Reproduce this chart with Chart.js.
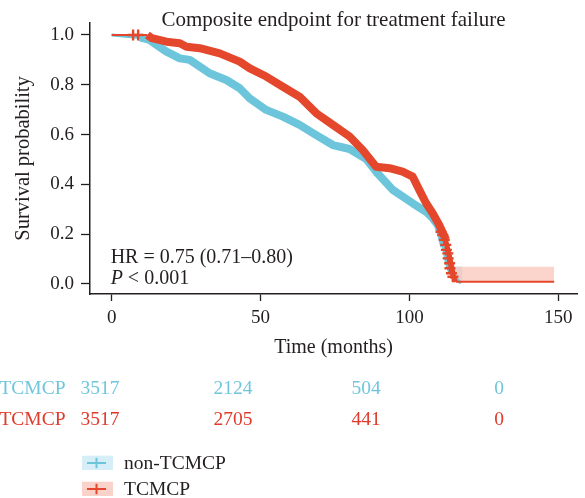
<!DOCTYPE html>
<html><head><meta charset="utf-8">
<script src="https://cdn.jsdelivr.net/npm/chart.js@4.4.1/dist/chart.umd.min.js"></script>
<style>html,body{margin:0;padding:0;background:#fff;overflow:hidden}canvas{display:block}</style>
</head><body>
<canvas id="c" width="585" height="498"></canvas>
<script>
// ---- data ----
const titleText = 'Composite endpoint for treatment failure';
const xTitle = 'Time (months)';
const yTitle = 'Survival probability';
const groups = ['non-TCMCP', 'TCMCP'];
const timeTicks = [0, 50, 100, 150];
const survTicks = [0, 0.2, 0.4, 0.6, 0.8, 1.0];
const riskNon = [3517, 2124, 504, 0];
const riskTC = [3517, 2705, 441, 0];
const hrLabel = 'HR = 0.75 (0.71\u20130.80)';
const pLabel = ['P', ' < 0.001'];

const timeNon = [0, 9.5, 12.8, 15.1, 18.4, 22.9, 26.2, 29.6, 32.9, 38.5, 43.0, 46.4, 51.9, 57.5, 63.1, 68.7, 74.3, 79.9, 85.5, 88.8, 94.4, 101.1, 105.6, 107.8, 109.5, 110.6, 111.7, 112.8, 113.9, 115.6, 117.3];
const survNon = [1.0, 0.99, 0.98, 0.96, 0.933, 0.906, 0.9, 0.873, 0.846, 0.819, 0.786, 0.745, 0.699, 0.672, 0.639, 0.598, 0.558, 0.542, 0.502, 0.451, 0.378, 0.324, 0.29, 0.264, 0.237, 0.204, 0.15, 0.083, 0.043, 0.023, 0.003];

const timeTC = [0, 12.0, 13.5, 18.4, 22.9, 25.1, 29.6, 36.3, 43.0, 46.4, 51.9, 57.5, 63.1, 68.7, 74.3, 79.9, 84.3, 88.8, 93.3, 97.7, 101.1, 103.3, 105.6, 107.8, 110.0, 112.3, 113.4, 114.4, 115.0, 115.6, 148.6];
const survTC = [1.0, 1.0, 0.987, 0.973, 0.967, 0.953, 0.947, 0.926, 0.893, 0.866, 0.833, 0.792, 0.752, 0.686, 0.639, 0.592, 0.538, 0.471, 0.465, 0.451, 0.431, 0.378, 0.324, 0.284, 0.237, 0.177, 0.124, 0.069, 0.029, 0.009, 0.009];

const censorTimeTC = [7.2, 8.9, 110.6, 111.2, 111.7, 112.2, 112.4, 112.9, 113.0, 113.5, 113.6, 114.1, 114.6];
const censorSurvTC = [1.0, 1.0, 0.21, 0.197, 0.177, 0.157, 0.137, 0.123, 0.103, 0.083, 0.063, 0.043, 0.029];

const ciTimeTC = [115.0, 148.6];
const ciUpperTC = [0.069, 0.069];
const ciLowerTC = [0.008, 0.008];
const ciTimeNon = [113.9, 117.8];
const ciUpperNon = [0.07, 0.07];
const ciLowerNon = [0.009, 0.009];

// ---- styling ----
const ink = '#231f20';
const cyan = '#6cc5db', red = '#e4472b';
const cyanText = '#6fc6dc', redText = '#df3a2a';
const cyanFill = 'rgba(120,200,225,0.30)', redFill = 'rgba(249,185,172,0.62)';
const cyanBox = '#d6eef7', redBox = '#fbd2ca';
const serif = '"Liberation Serif", "Times New Roman", serif';

const pts = (xs, ys) => xs.map((x, i) => ({x: x, y: ys[i]}));

Chart.defaults.font.family = serif;
Chart.defaults.color = ink;

const overlay = {
  id: 'overlay',
  afterDraw(chart) {
    const ctx = chart.ctx, ca = chart.chartArea, xs = chart.scales.x;
    ctx.save();
    ctx.fillStyle = ink;
    ctx.textBaseline = 'alphabetic';
    // title
    ctx.textAlign = 'center';
    ctx.font = '21px ' + serif;
    ctx.fillText(titleText, (ca.left + ca.right) / 2, 26);
    // HR annotation
    ctx.textAlign = 'left';
    const ax = xs.getPixelForValue(0) - 1;
    ctx.font = '20px ' + serif;
    ctx.fillText(hrLabel, ax, 262.5);
    ctx.font = 'italic 20px ' + serif;
    ctx.fillText(pLabel[0], ax, 283.5);
    const pw = ctx.measureText(pLabel[0]).width;
    ctx.font = '20px ' + serif;
    ctx.fillText(pLabel[1], ax + pw, 283.5);
    // risk table
    const rows = [[groups[0], riskNon, cyanText, 393.5], [groups[1], riskTC, redText, 424.5]];
    ctx.font = '19.5px ' + serif;
    rows.forEach(r => {
      ctx.fillStyle = r[2];
      ctx.textAlign = 'right';
      ctx.fillText(r[0], 65.5, r[3]);
      ctx.textAlign = 'center';
      r[1].forEach((v, i) => ctx.fillText(String(v), 100 + i * 133, r[3]));
    });
    // legend
    const leg = [[groups[0], cyanBox, cyan, 455.7], [groups[1], redBox, red, 481.7]];
    leg.forEach(l => {
      ctx.fillStyle = l[1];
      ctx.fillRect(82, l[3], 31, 14.3);
      ctx.strokeStyle = l[2];
      ctx.lineWidth = 2;
      ctx.beginPath();
      ctx.moveTo(87, l[3] + 7.2); ctx.lineTo(106, l[3] + 7.2);
      ctx.moveTo(96.5, l[3] + 2); ctx.lineTo(96.5, l[3] + 12.5);
      ctx.stroke();
      ctx.fillStyle = ink;
      ctx.textAlign = 'left';
      ctx.font = '19.5px ' + serif;
      ctx.fillText(l[0], 124, l[3] + 12.8);
    });
    ctx.restore();
  }
};

new Chart(document.getElementById('c'), {
  type: 'line',
  data: {
    datasets: [
      {
        type: 'scatter', label: 'censor TCMCP', data: pts(censorTimeTC, censorSurvTC), order: 0,
        showLine: false, pointStyle: 'cross', pointRadius: 5.5, pointBorderWidth: 2.4,
        borderColor: red, backgroundColor: red
      },
      {
        label: groups[1], data: pts(timeTC, survTC), order: 1,
        borderColor: red, pointRadius: 0, fill: false, tension: 0,
        borderJoinStyle: 'round', borderCapStyle: 'butt', borderWidth: 8,
        segment: { borderWidth: c => (c.p0.parsed.x < 12 || c.p0.parsed.x >= 115.6) ? 2 : (c.p0.parsed.x >= 112.3 ? 4 : 8) }
      },
      {
        label: groups[0], data: pts(timeNon, survNon), order: 2,
        borderColor: cyan, pointRadius: 0, fill: false, tension: 0,
        borderJoinStyle: 'round', borderCapStyle: 'butt', borderWidth: 8,
        segment: { borderWidth: c => (c.p0.parsed.x < 9.5 || c.p0.parsed.x >= 113.9) ? 3 : (c.p0.parsed.x >= 111.7 ? 5 : 8) }
      },
      {
        label: 'ci upper TCMCP', data: pts(ciTimeTC, ciUpperTC), order: 3,
        borderWidth: 0, pointRadius: 0, fill: '+1', backgroundColor: redFill, borderColor: 'rgba(0,0,0,0)'
      },
      {
        label: 'ci lower TCMCP', data: pts(ciTimeTC, ciLowerTC), order: 4,
        borderWidth: 0, pointRadius: 0, fill: false, borderColor: 'rgba(0,0,0,0)'
      },
      {
        label: 'ci upper non', data: pts(ciTimeNon, ciUpperNon), order: 5,
        borderWidth: 0, pointRadius: 0, fill: '+1', backgroundColor: cyanFill, borderColor: 'rgba(0,0,0,0)'
      },
      {
        label: 'ci lower non', data: pts(ciTimeNon, ciLowerNon), order: 6,
        borderWidth: 0, pointRadius: 0, fill: false, borderColor: 'rgba(0,0,0,0)'
      }
    ]
  },
  options: {
    responsive: false,
    animation: false,
    devicePixelRatio: 1,
    layout: { padding: { top: 23, right: 7, bottom: 134, left: 0 } },
    plugins: { legend: { display: false }, tooltip: { enabled: false }, title: { display: false } },
    scales: {
      x: {
        type: 'linear', min: -7.27, max: 156.3,
        afterFit: s => { s.height = 70; },
        afterBuildTicks: s => { s.ticks = timeTicks.map(v => ({value: v})); },
        ticks: { font: { size: 19 }, color: ink, padding: 6, maxRotation: 0, callback: v => String(v) },
        grid: { display: true, drawOnChartArea: false, drawTicks: true, tickLength: 7, tickColor: ink, tickWidth: 1.3 },
        border: { display: true, color: ink, width: 1.5 },
        title: { display: true, text: xTitle, font: { size: 20 }, color: ink, padding: { top: 0, bottom: 4 } }
      },
      y: {
        type: 'linear', min: -0.0402, max: 1.048,
        afterFit: s => { s.width = 90; },
        afterBuildTicks: s => { s.ticks = survTicks.map(v => ({value: v})); },
        ticks: { font: { size: 19 }, color: ink, padding: 7, callback: v => Number(v).toFixed(1) },
        grid: { display: true, drawOnChartArea: false, drawTicks: true, tickLength: 9, tickColor: ink, tickWidth: 1.3 },
        border: { display: true, color: ink, width: 1.5 },
        title: { display: true, text: yTitle, font: { size: 20.5 }, color: ink, padding: { top: 11.5, bottom: 0 } }
      }
    }
  },
  plugins: [overlay]
});
</script>
</body></html>
